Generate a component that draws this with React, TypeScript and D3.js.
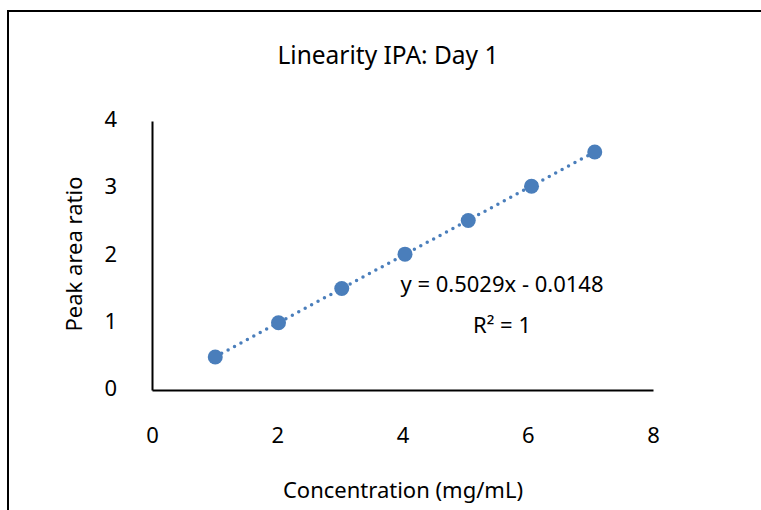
import { useEffect, useRef } from 'react';
import * as d3 from 'd3';

const concentration = [1.01, 2.02, 3.03, 4.04, 5.05, 6.06, 7.07];
const peakRatio = [0.49, 1.0, 1.51, 2.02, 2.52, 3.03, 3.54];
const xTicks = [0, 2, 4, 6, 8];
const yTicks = [0, 1, 2, 3, 4];
const slope = 0.5029;
const intercept = -0.0148;

const title = 'Linearity IPA: Day 1';
const xTitle = 'Concentration (mg/mL)';
const yTitle = 'Peak area ratio';
const eqText = 'y = 0.5029x - 0.0148';
const r2Text = 'R² = 1';

export default function App() {
  const svgRef = useRef<SVGSVGElement>(null);

  useEffect(() => {
    const svg = d3.select(svgRef.current);
    svg.selectAll('*').remove();

    const width = 761;
    const height = 510;
    const font = '"Noto Sans", sans-serif';
    const blue = '#4a7ebb';

    const x = d3.scaleLinear().domain([0, 8]).range([152, 653]);
    const y = d3.scaleLinear().domain([0, 4]).range([390, 121]);

    // outer frame, cut off at right and bottom like the source image
    svg.append('rect')
      .attr('x', 8).attr('y', 11)
      .attr('width', width + 20).attr('height', height + 20)
      .attr('fill', 'none')
      .attr('stroke', '#000')
      .attr('stroke-width', 2);

    svg.append('text')
      .attr('x', 388).attr('y', 64)
      .attr('text-anchor', 'middle')
      .attr('font-family', font).attr('font-size', 24.5)
      .text(title);

    // axes: plain lines, no ticks
    svg.append('g')
      .attr('transform', `translate(0, ${y(0)})`)
      .call(d3.axisBottom(x).tickValues(xTicks).tickSize(0).tickPadding(37).tickFormat(d3.format('d')))
      .call(g => g.select('.domain').attr('stroke', '#000').attr('stroke-width', 2))
      .call(g => g.selectAll('text').attr('font-family', font).attr('font-size', 22).attr('fill', '#000'));

    svg.append('g')
      .attr('transform', `translate(${x(0)}, 0)`)
      .call(d3.axisLeft(y).tickValues(yTicks).tickSize(0).tickPadding(35).tickFormat(d3.format('d')))
      .call(g => g.select('.domain').attr('stroke', '#000').attr('stroke-width', 2))
      .call(g => g.selectAll('text').attr('font-family', font).attr('font-size', 22).attr('fill', '#000').attr('dy', '0.25em'));

    svg.append('text')
      .attr('x', 403).attr('y', 498)
      .attr('text-anchor', 'middle')
      .attr('font-family', font).attr('font-size', 22)
      .text(xTitle);

    svg.append('text')
      .attr('transform', `translate(82, 254) rotate(-90)`)
      .attr('text-anchor', 'middle')
      .attr('font-family', font).attr('font-size', 22)
      .text(yTitle);

    // linear trendline
    const x0 = concentration[0];
    const x1 = concentration[concentration.length - 1];
    svg.append('line')
      .attr('x1', x(x0)).attr('y1', y(slope * x0 + intercept))
      .attr('x2', x(x1)).attr('y2', y(slope * x1 + intercept))
      .attr('stroke', blue)
      .attr('stroke-width', 3.5)
      .attr('stroke-linecap', 'round')
      .attr('stroke-dasharray', '0 7.3');

    svg.append('g')
      .selectAll('circle')
      .data(concentration)
      .join('circle')
      .attr('cx', d => x(d))
      .attr('cy', (_, i) => y(peakRatio[i]))
      .attr('r', 7.5)
      .attr('fill', blue);

    svg.append('text')
      .attr('x', 502).attr('y', 292)
      .attr('text-anchor', 'middle')
      .attr('font-family', font).attr('font-size', 22)
      .text(eqText);

    svg.append('text')
      .attr('x', 502).attr('y', 333)
      .attr('text-anchor', 'middle')
      .attr('font-family', font).attr('font-size', 22)
      .text(r2Text);
  }, []);

  return (
    <svg
      ref={svgRef}
      width={761}
      height={510}
      style={{ position: 'absolute', left: 0, top: 0, display: 'block', background: '#fff' }}
    />
  );
}
